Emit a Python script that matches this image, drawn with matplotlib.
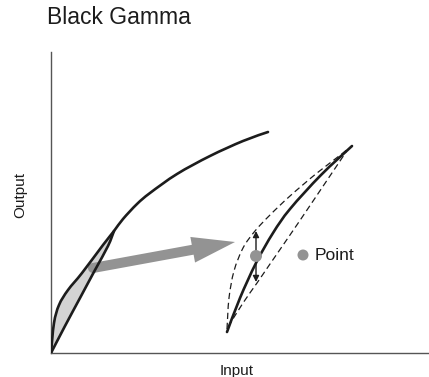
import matplotlib.pyplot as plt
from matplotlib.patches import FancyArrow, Circle, PathPatch
from matplotlib.path import Path
import numpy as np

plt.rcParams['font.family'] = ['Liberation Sans', 'DejaVu Sans']

# curve points (input, output), axes origin = (0, 0)
knee_in = [0, 3, 8, 17, 31, 52, 63, 72, 86, 99, 126, 159, 192, 217]
knee_out = [0, 30, 48, 63, 80, 108, 122, 134, 149, 160, 179, 197, 212, 221]

linear_in = [0, 14, 29, 44, 57, 63]
linear_out = [0, 27, 55, 83, 107, 122]

gamma_in = [176, 189, 205, 222, 239, 270, 301]
gamma_out = [21, 55, 90, 120, 144, 178, 207]

upper_in = [176, 178, 183, 192, 204, 219, 239, 266, 292, 297]
upper_out = [24, 55, 82, 105, 122, 138, 157, 180, 200, 205]

lower_in = [177, 192, 206, 219, 239, 256, 289, 295]
lower_out = [26, 50, 70, 89, 118, 143, 192, 201]

point_xy = (205, 97)
arrow_top = 122
arrow_bottom = 71
legend_xy = (252, 98)


def smooth(xs, ys):
    # bezier segments through the read points
    p = np.column_stack([xs, ys]).astype(float)
    verts = [p[0]]
    codes = [Path.MOVETO]
    n = len(p)
    for i in range(n - 1):
        p0 = p[max(i - 1, 0)]
        p1 = p[i]
        p2 = p[i + 1]
        p3 = p[min(i + 2, n - 1)]
        verts += [p1 + (p2 - p0) / 6, p2 - (p3 - p1) / 6, p2]
        codes += [Path.CURVE4] * 3
    return verts, codes


fig = plt.figure(figsize=(4.29, 3.77), dpi=100)
ax = fig.add_axes([51/429, 24/377, 378/429, 301/377])
ax.set_xlim(0, 378)
ax.set_ylim(0, 301)
for s in ['top', 'right']:
    ax.spines[s].set_visible(False)
for s in ['left', 'bottom']:
    ax.spines[s].set_color('#555555')
    ax.spines[s].set_linewidth(1.0)
ax.set_xticks([])
ax.set_yticks([])

ink = '#1c1c1c'

# shaded area between knee curve and linear curve
v1, c1 = smooth(knee_in[:7], knee_out[:7])
v2, c2 = smooth(linear_in[::-1], linear_out[::-1])
c2[0] = Path.LINETO
ax.add_patch(PathPatch(Path(v1 + v2 + [v1[0]], c1 + c2 + [Path.CLOSEPOLY]),
                       facecolor='#d3d3d3', edgecolor='none', zorder=1))


def curve(xs, ys, **kw):
    v, c = smooth(xs, ys)
    ax.add_patch(PathPatch(Path(v, c), facecolor='none', edgecolor=ink,
                           capstyle='round', zorder=3, **kw))


curve(knee_in, knee_out, lw=1.9)
curve(linear_in, linear_out, lw=1.9)

# big gray arrow
grey = '#939393'
ax.add_patch(FancyArrow(42, 85, 142, 26, width=10, head_width=26, head_length=43,
                        length_includes_head=True, color=grey, lw=0, zorder=2))
ax.add_patch(Circle((42, 85), 5, color=grey, lw=0, zorder=2))

curve(gamma_in, gamma_out, lw=1.9)
v, c = smooth(upper_in, upper_out)
ax.add_patch(PathPatch(Path(v, c), facecolor='none', edgecolor=ink, lw=0.9,
                       ls=(0, (5, 3)), zorder=3))
v, c = smooth(lower_in, lower_out)
ax.add_patch(PathPatch(Path(v, c), facecolor='none', edgecolor=ink, lw=0.9,
                       ls=(0, (5, 3)), zorder=3))

# double arrow
for yy in [arrow_top, arrow_bottom]:
    ax.annotate('', xy=(point_xy[0], yy), xytext=point_xy,
                arrowprops=dict(arrowstyle='-|>', color=ink, lw=1.0,
                                mutation_scale=9, shrinkA=0, shrinkB=0), zorder=4)

ax.add_patch(Circle(point_xy, 6, color=grey, lw=0, zorder=5))
ax.add_patch(Circle(legend_xy, 5.5, color=grey, lw=0, zorder=5))
fig.text(315/429, 1 - 260/377, 'Point', fontsize=12.6, va='baseline', ha='left', color=ink)

fig.text(47/429, 1 - 24/377, 'Black Gamma', fontsize=16.5, va='baseline', ha='left', color=ink)
fig.text(20/429, 1 - 195/377, 'Output', fontsize=11, va='center', ha='center', rotation=90, color=ink)
fig.text(237/429, 1 - 375/377, 'Input', fontsize=11, va='baseline', ha='center', color=ink)

fig.savefig('out.png', dpi=100)
